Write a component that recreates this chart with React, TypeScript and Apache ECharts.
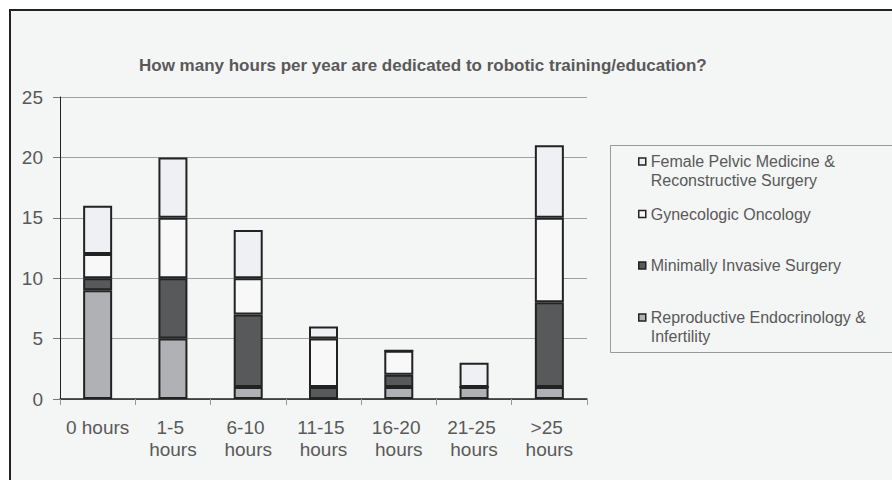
import React, { useEffect, useRef } from "react";
import * as echarts from "echarts";

const categories = ["0 hours", "1-5 hours", "6-10 hours", "11-15 hours", "16-20 hours", "21-25 hours", ">25 hours"];
const reproductive = [9, 5, 1, 0, 1, 1, 1];
const minimallyInvasive = [1, 5, 6, 1, 1, 0, 7];
const gynOncology = [2, 5, 3, 4, 2, 0, 7];
const femalePelvic = [4, 5, 4, 1, 0, 2, 6];
const yTicks = { min: 0, max: 25, interval: 5 };

const seriesNames = {
  rep: "Reproductive Endocrinology & Infertility",
  mis: "Minimally Invasive Surgery",
  gyn: "Gynecologic Oncology",
  fpm: "Female Pelvic Medicine & Reconstructive Surgery",
};

const FONT = "'Liberation Sans', Arial, sans-serif";
const TXT = "#595959";

export default function App() {
  const ref = useRef<HTMLDivElement>(null);
  useEffect(() => {
    if (!ref.current) return;
    const chart = echarts.init(ref.current, null, { renderer: "svg" });
    const barStyle = (color: string) => ({ color, borderColor: "#222", borderWidth: 2 });
    const mkSeries = (name: string, data: number[], color: string) => ({
      name,
      type: "bar",
      stack: "total",
      barWidth: 29,
      data,
      itemStyle: barStyle(color),
    });
    const legendBase = {
      orient: "vertical",
      left: 638,
      padding: 0,
      icon: "rect",
      itemWidth: 7,
      itemHeight: 7,
      itemGap: 5,
      itemStyle: { borderColor: "#222", borderWidth: 1.5 },
      textStyle: { fontFamily: FONT, fontSize: 16, color: TXT, lineHeight: 19 },
      selectedMode: false,
    };
    chart.setOption({
      animation: false,
      backgroundColor: "#ffffff",
      title: {
        text: "How many hours per year are dedicated to robotic training/education?",
        left: 139,
        top: 55,
        padding: 0,
        textStyle: { fontFamily: FONT, fontSize: 17, fontWeight: "bold", color: TXT, lineHeight: 20 },
      },
      graphic: [
        {
          type: "rect",
          z: -10,
          silent: true,
          shape: { x: 10, y: 10, width: 900, height: 500 },
          style: { fill: "#f4f5f5", stroke: "#222", lineWidth: 2 },
        },
        {
          type: "rect",
          z: -5,
          silent: true,
          shape: { x: 610.5, y: 145.5, width: 300, height: 207 },
          style: { fill: "none", stroke: "#999", lineWidth: 1 },
        },
      ],
      legend: [
        { ...legendBase, top: 133, data: [seriesNames.fpm], formatter: () => "\nFemale Pelvic Medicine &\nReconstructive Surgery" },
        { ...legendBase, top: 204.5, data: [seriesNames.gyn] },
        { ...legendBase, top: 256, data: [seriesNames.mis] },
        { ...legendBase, top: 289, data: [seriesNames.rep], formatter: () => "\nReproductive Endocrinology &\nInfertility" },
      ],
      grid: { left: 60, right: 305, top: 97, bottom: 81 },
      xAxis: {
        type: "category",
        data: categories,
        axisLine: { lineStyle: { color: "#222", width: 1.5 } },
        axisTick: { show: true, length: 6, lineStyle: { color: "#999" } },
        axisLabel: {
          fontFamily: FONT,
          fontSize: 19,
          lineHeight: 22,
          color: TXT,
          margin: 17,
          width: 72,
          overflow: "break",
          interval: 0,
        },
      },
      yAxis: {
        type: "value",
        min: yTicks.min,
        max: yTicks.max,
        interval: yTicks.interval,
        axisLine: { show: true, lineStyle: { color: "#222", width: 1 } },
        axisTick: { show: true, length: 7, lineStyle: { color: "#777" } },
        splitLine: { lineStyle: { color: "#a0a0a0", width: 1 } },
        axisLabel: { fontFamily: FONT, fontSize: 19, color: TXT, margin: 17 },
      },
      series: [
        mkSeries(seriesNames.rep, reproductive, "#b0b1b4"),
        mkSeries(seriesNames.mis, minimallyInvasive, "#58595b"),
        mkSeries(seriesNames.gyn, gynOncology, "#f8f8f8"),
        mkSeries(seriesNames.fpm, femalePelvic, "#eff0f3"),
      ],
    });
    return () => chart.dispose();
  }, []);
  return <div ref={ref} style={{ position: "absolute", left: 0, top: 0, width: 892, height: 480 }} />;
}
